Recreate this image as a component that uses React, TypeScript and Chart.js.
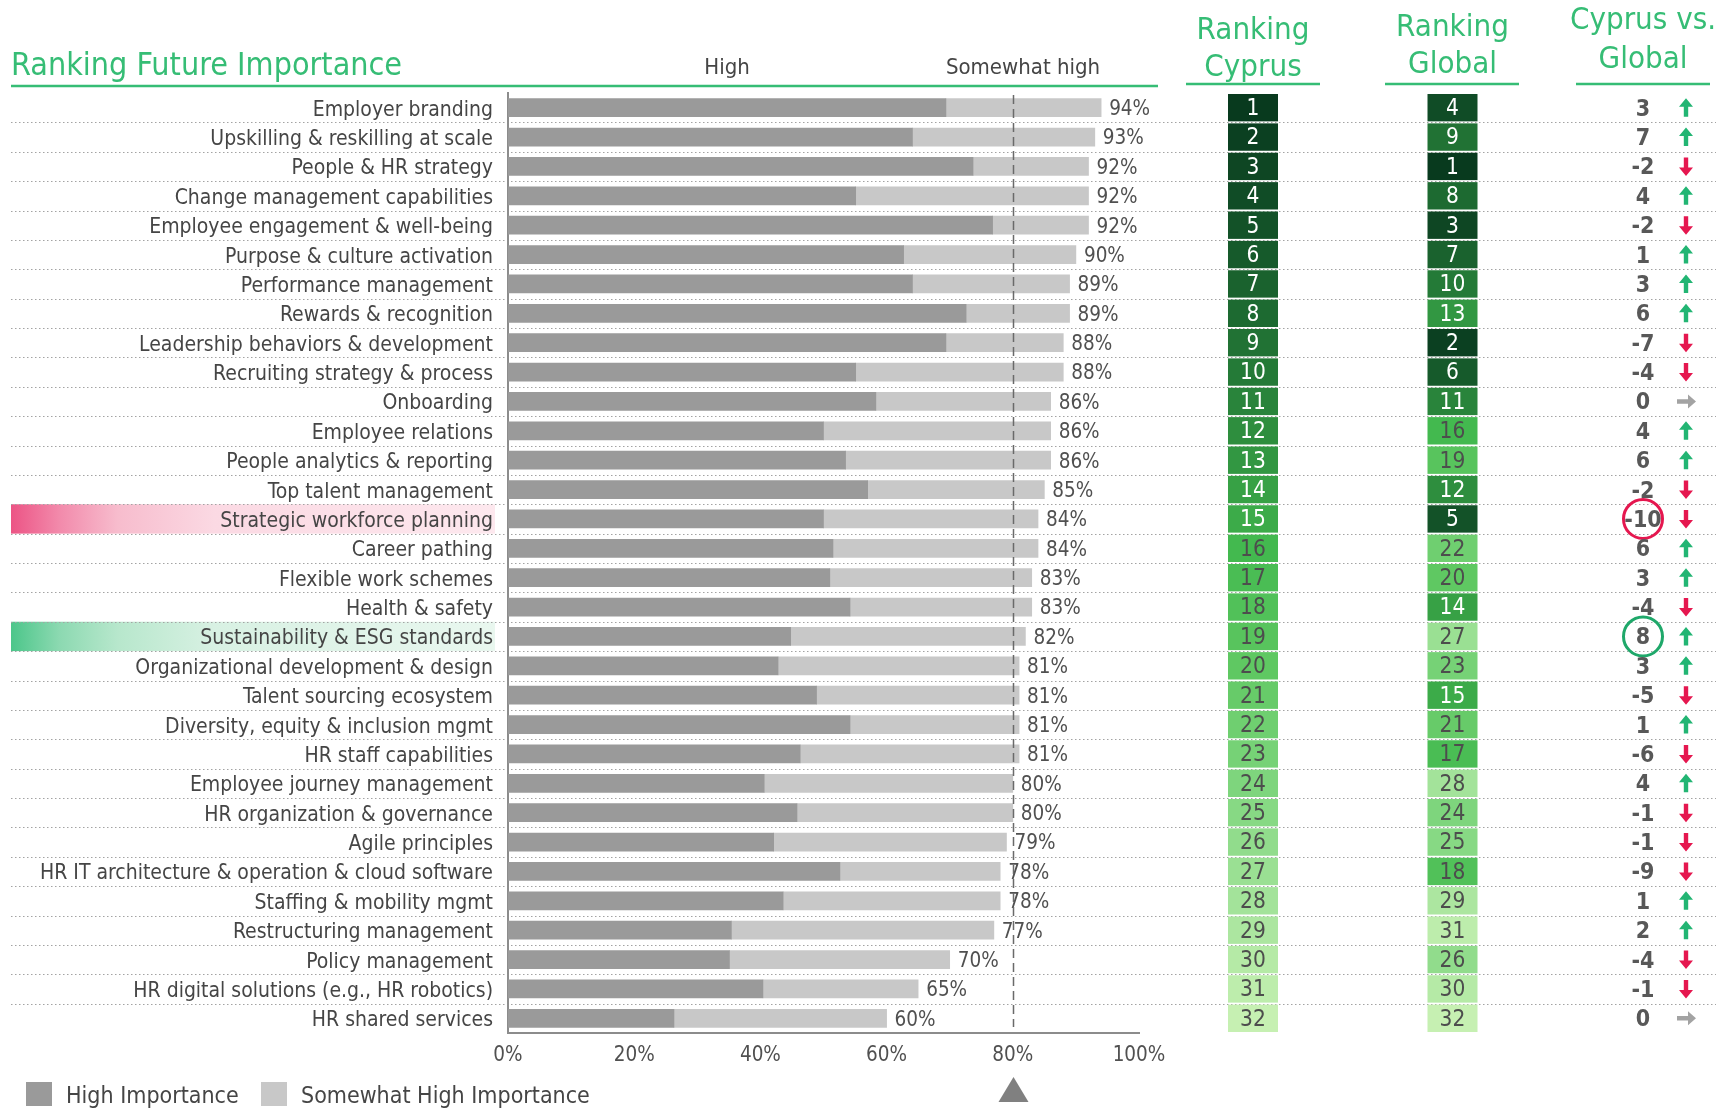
import React, { useEffect, useRef } from 'react';
import { Chart, registerables } from 'chart.js';

Chart.register(...registerables);

// ---- data -----------------------------------------------------------------
const categories = [
  'Employer branding',
  'Upskilling & reskilling at scale',
  'People & HR strategy',
  'Change management capabilities',
  'Employee engagement & well-being',
  'Purpose & culture activation',
  'Performance management',
  'Rewards & recognition',
  'Leadership behaviors & development',
  'Recruiting strategy & process',
  'Onboarding',
  'Employee relations',
  'People analytics & reporting',
  'Top talent management',
  'Strategic workforce planning',
  'Career pathing',
  'Flexible work schemes',
  'Health & safety',
  'Sustainability & ESG standards',
  'Organizational development & design',
  'Talent sourcing ecosystem',
  'Diversity, equity & inclusion mgmt',
  'HR staff capabilities',
  'Employee journey management',
  'HR organization & governance',
  'Agile principles',
  'HR IT architecture & operation & cloud software',
  'Staffing & mobility mgmt',
  'Restructuring management',
  'Policy management',
  'HR digital solutions (e.g., HR robotics)',
  'HR shared services',
];

// Share answering "high importance" (%)
const highImportance = [
  69.4, 64.1, 73.7, 55.1, 76.8, 62.7, 64.1, 72.6, 69.4, 55.1, 58.3, 50.0, 53.5, 57.0, 50.0, 51.5,
  51.0, 54.2, 44.8, 42.8, 48.9, 54.2, 46.3, 40.6, 45.8, 42.1, 52.6, 43.6, 35.4, 35.1, 40.4, 26.3,
];

// High + somewhat high importance (%)
const totalImportance = [
  94, 93, 92, 92, 92, 90, 89, 89, 88, 88, 86, 86, 86, 85, 84, 84,
  83, 83, 82, 81, 81, 81, 81, 80, 80, 79, 78, 78, 77, 70, 65, 60,
];

const somewhatHighImportance = totalImportance.map((t, i) => Math.round((t - highImportance[i]) * 10) / 10);

const rankCyprus = [
  1, 2, 3, 4, 5, 6, 7, 8, 9, 10, 11, 12, 13, 14, 15, 16,
  17, 18, 19, 20, 21, 22, 23, 24, 25, 26, 27, 28, 29, 30, 31, 32,
];

const rankGlobal = [
  4, 9, 1, 8, 3, 7, 10, 13, 2, 6, 11, 16, 19, 12, 5, 22,
  20, 14, 27, 23, 15, 21, 17, 28, 24, 25, 18, 29, 31, 26, 30, 32,
];

const cyprusVsGlobal = [
  3, 7, -2, 4, -2, 1, 3, 6, -7, -4, 0, 4, 6, -2, -10, 6,
  3, -4, 8, 3, -5, 1, -6, 4, -1, -1, -9, 1, 2, -4, -1, 0,
];

const xTicks = [0, 20, 40, 60, 80, 100];
const benchmark = 80;

// rows called out on the left and in the difference column
const highlightNegative = 'Strategic workforce planning';
const highlightPositive = 'Sustainability & ESG standards';

const seriesLabels = ['High Importance', 'Somewhat High Importance'];

// ---- style ----------------------------------------------------------------
const FONT = '"DejaVu Sans Condensed", "DejaVu Sans", sans-serif';
const W = 1716;
const H = 1108;

const C = {
  green: '#36bd75',
  text: '#454545',
  value: '#505050',
  high: '#9a9a9a',
  somewhat: '#c8c8c8',
  axis: '#8c8c8c',
  dots: '#a3a3a3',
  up: '#22b573',
  down: '#e5174f',
  flat: '#a3a3a3',
  ringNeg: '#e5174f',
  ringPos: '#1fa86a',
};

const COL_CYPRUS = 1253;
const COL_GLOBAL = 1452.5;
const COL_DIFF = 1643;
const COL_ARROW = 1686;
const CELL_W = 50;

const rampStops: [number, [number, number, number]][] = [
  [1, [8, 58, 30]],
  [5, [19, 82, 40]],
  [10, [36, 122, 55]],
  [15, [60, 171, 73]],
  [16, [67, 185, 79]],
  [20, [95, 200, 98]],
  [24, [126, 213, 125]],
  [28, [163, 227, 154]],
  [32, [198, 240, 178]],
];

function rankColor(r: number): string {
  for (let k = 0; k < rampStops.length - 1; k++) {
    const [r0, c0] = rampStops[k];
    const [r1, c1] = rampStops[k + 1];
    if (r >= r0 && r <= r1) {
      const t = (r - r0) / (r1 - r0);
      const c = c0.map((v, j) => Math.round(v + (c1[j] - v) * t));
      return `rgb(${c[0]},${c[1]},${c[2]})`;
    }
  }
  return 'rgb(198,240,178)';
}

function font(size: number, weight = 'normal') {
  return `${weight} ${size}px ${FONT}`;
}

function drawArrow(ctx: CanvasRenderingContext2D, x: number, y: number, d: number) {
  ctx.save();
  ctx.beginPath();
  if (d > 0) {
    ctx.fillStyle = C.up;
    ctx.moveTo(x, y - 9.5);
    ctx.lineTo(x + 7, y - 1);
    ctx.lineTo(x + 2.2, y - 1);
    ctx.lineTo(x + 2.2, y + 9);
    ctx.lineTo(x - 2.2, y + 9);
    ctx.lineTo(x - 2.2, y - 1);
    ctx.lineTo(x - 7, y - 1);
  } else if (d < 0) {
    ctx.fillStyle = C.down;
    ctx.moveTo(x, y + 9.5);
    ctx.lineTo(x + 7, y + 1);
    ctx.lineTo(x + 2.2, y + 1);
    ctx.lineTo(x + 2.2, y - 9);
    ctx.lineTo(x - 2.2, y - 9);
    ctx.lineTo(x - 2.2, y + 1);
    ctx.lineTo(x - 7, y + 1);
  } else {
    ctx.fillStyle = C.flat;
    ctx.moveTo(x + 10, y);
    ctx.lineTo(x + 2, y - 7);
    ctx.lineTo(x + 2, y - 2.2);
    ctx.lineTo(x - 9, y - 2.2);
    ctx.lineTo(x - 9, y + 2.2);
    ctx.lineTo(x + 2, y + 2.2);
    ctx.lineTo(x + 2, y + 7);
  }
  ctx.closePath();
  ctx.fill();
  ctx.restore();
}

const decorations = {
  id: 'decorations',
  beforeDraw(chart: any) {
    const { ctx } = chart;
    const y = chart.scales.y;
    const band = y.getPixelForValue(1) - y.getPixelForValue(0);

    // highlighted row labels
    const fills: [string, string[]][] = [
      [highlightNegative, ['#ec5485', '#f28aab', '#f7bccd', '#fbd9e3', '#fde8ee']],
      [highlightPositive, ['#4cc68a', '#8cd9b1', '#b7e7cc', '#d8f1e3', '#e9f7ef']],
    ];
    fills.forEach(([name, stops]) => {
      const i = categories.indexOf(name);
      if (i < 0) return;
      const yc = y.getPixelForValue(i);
      const g = ctx.createLinearGradient(11, 0, 495, 0);
      g.addColorStop(0, stops[0]);
      g.addColorStop(0.1, stops[1]);
      g.addColorStop(0.22, stops[2]);
      g.addColorStop(0.42, stops[3]);
      g.addColorStop(1, stops[4]);
      ctx.fillStyle = g;
      ctx.fillRect(11, yc - band / 2, 484, band);
    });

    // dotted row separators
    ctx.save();
    ctx.strokeStyle = C.dots;
    ctx.lineWidth = 1.2;
    ctx.setLineDash([1.5, 2.5]);
    for (let i = 0; i < categories.length - 1; i++) {
      const ys = Math.round(y.getPixelForValue(i) + band / 2) + 0.5;
      ctx.beginPath();
      ctx.moveTo(11, ys);
      ctx.lineTo(W, ys);
      ctx.stroke();
    }
    ctx.restore();
  },
  afterDatasetsDraw(chart: any) {
    const { ctx, chartArea } = chart;
    const x = chart.scales.x;
    const y = chart.scales.y;

    // totals at the bar ends
    ctx.save();
    ctx.font = font(20.5);
    ctx.fillStyle = C.value;
    ctx.textAlign = 'left';
    ctx.textBaseline = 'middle';
    totalImportance.forEach((t, i) => {
      ctx.fillText(`${t}%`, x.getPixelForValue(t) + 8, y.getPixelForValue(i) + 2);
    });
    ctx.restore();

    // benchmark line and marker
    const xb = Math.round(x.getPixelForValue(benchmark)) + 0.5;
    ctx.save();
    ctx.strokeStyle = '#6a6a6a';
    ctx.lineWidth = 1.5;
    ctx.setLineDash([9, 5]);
    ctx.beginPath();
    ctx.moveTo(xb, chartArea.top + 2);
    ctx.lineTo(xb, chartArea.bottom - 6);
    ctx.stroke();
    ctx.restore();

    ctx.save();
    ctx.fillStyle = '#808080';
    ctx.beginPath();
    ctx.moveTo(xb, 1077);
    ctx.lineTo(xb + 15, 1102);
    ctx.lineTo(xb - 15, 1102);
    ctx.closePath();
    ctx.fill();
    ctx.restore();
  },
  afterDraw(chart: any) {
    const { ctx } = chart;
    const y = chart.scales.y;
    const band = y.getPixelForValue(1) - y.getPixelForValue(0);

    ctx.save();
    // headings
    ctx.fillStyle = C.green;
    ctx.font = font(32);
    ctx.textAlign = 'left';
    ctx.textBaseline = 'alphabetic';
    ctx.fillText('Ranking Future Importance', 11, 75);

    ctx.font = font(31);
    ctx.textAlign = 'center';
    ctx.fillText('Ranking', COL_CYPRUS, 39);
    ctx.fillText('Cyprus', COL_CYPRUS, 76);
    ctx.fillText('Ranking', COL_GLOBAL, 36);
    ctx.fillText('Global', COL_GLOBAL, 73);
    ctx.fillText('Cyprus vs.', COL_DIFF, 29);
    ctx.fillText('Global', COL_DIFF, 68);

    ctx.fillStyle = C.text;
    ctx.font = font(22);
    ctx.fillText('High', 727, 74);
    ctx.fillText('Somewhat high', 1023, 74);

    ctx.strokeStyle = C.green;
    ctx.lineWidth = 2.5;
    const rules: [number, number, number][] = [
      [11, 1158, 86],
      [1186, 1320, 84],
      [1385, 1519, 84],
      [1576, 1710, 84],
    ];
    rules.forEach(([a, b, yy]) => {
      ctx.beginPath();
      ctx.moveTo(a, yy);
      ctx.lineTo(b, yy);
      ctx.stroke();
    });

    // ranking cells
    ctx.font = font(22.5);
    ctx.textAlign = 'center';
    ctx.textBaseline = 'middle';
    const cellH = band - 2;
    const cell = (cx: number, yc: number, r: number) => {
      ctx.fillStyle = rankColor(r);
      ctx.fillRect(cx - CELL_W / 2, yc - cellH / 2, CELL_W, cellH);
      ctx.fillStyle = r <= 15 ? '#ffffff' : '#4d4d4d';
      ctx.fillText(String(r), cx, yc + 1.5);
    };
    categories.forEach((_, i) => {
      const yc = y.getPixelForValue(i);
      cell(COL_CYPRUS, yc, rankCyprus[i]);
      cell(COL_GLOBAL, yc, rankGlobal[i]);
    });

    // difference column
    ctx.font = font(23, 'bold');
    categories.forEach((name, i) => {
      const yc = y.getPixelForValue(i);
      const d = cyprusVsGlobal[i];
      ctx.fillStyle = '#585858';
      ctx.fillText(String(d), COL_DIFF, yc + 2);
      drawArrow(ctx, COL_ARROW, yc, d);
      if (name === highlightNegative || name === highlightPositive) {
        ctx.save();
        ctx.strokeStyle = name === highlightNegative ? C.ringNeg : C.ringPos;
        ctx.lineWidth = 3;
        ctx.beginPath();
        ctx.arc(COL_DIFF, yc, 19.5, 0, Math.PI * 2);
        ctx.stroke();
        ctx.restore();
      }
    });

    // legend
    const legendColors = [C.high, C.somewhat];
    const legendX = [26, 261];
    ctx.font = font(23);
    ctx.textAlign = 'left';
    ctx.textBaseline = 'middle';
    seriesLabels.forEach((lbl, k) => {
      ctx.fillStyle = legendColors[k];
      ctx.fillRect(legendX[k], 1082, 26, 24);
      ctx.fillStyle = C.text;
      ctx.fillText(lbl, legendX[k] + 40, 1097);
    });
    ctx.restore();
  },
};

export default function App() {
  const canvasRef = useRef<HTMLCanvasElement | null>(null);

  useEffect(() => {
    document.documentElement.style.overflow = 'hidden';
    const canvas = canvasRef.current;
    if (!canvas) return;
    const chart = new Chart(canvas, {
      type: 'bar',
      data: {
        labels: categories,
        datasets: [
          {
            label: seriesLabels[0],
            data: highImportance,
            backgroundColor: C.high,
            barThickness: 18,
          },
          {
            label: seriesLabels[1],
            data: somewhatHighImportance,
            backgroundColor: C.somewhat,
            barThickness: 18,
          },
        ],
      },
      options: {
        indexAxis: 'y',
        animation: false,
        responsive: false,
        maintainAspectRatio: false,
        devicePixelRatio: 1,
        layout: { padding: { top: 93, right: W - 1139, bottom: 0, left: 0 } },
        plugins: {
          legend: { display: false },
          tooltip: { enabled: false },
        },
        scales: {
          x: {
            stacked: true,
            min: 0,
            max: 100,
            afterFit: (s: any) => {
              s.height = 75;
            },
            afterBuildTicks: (s: any) => {
              s.ticks = xTicks.map((v) => ({ value: v }));
            },
            grid: { display: false },
            border: { display: true, color: C.axis, width: 2 },
            ticks: {
              padding: 2,
              color: C.value,
              font: { family: FONT, size: 20.5 },
              callback: (v: any) => `${v}%`,
            },
          },
          y: {
            stacked: true,
            afterFit: (s: any) => {
              s.width = 508;
            },
            grid: { display: false },
            border: { display: true, color: C.axis, width: 2 },
            ticks: {
              padding: 7,
              labelOffset: 2.5,
              color: C.text,
              autoSkip: false,
              font: { family: FONT, size: 21 },
            },
          },
        },
      },
      plugins: [decorations],
    } as any);
    return () => chart.destroy();
  }, []);

  return (
    <div style={{ position: 'absolute', left: 0, top: 0, width: W, height: H, background: '#ffffff' }}>
      <canvas ref={canvasRef} width={W} height={H} style={{ display: 'block' }} />
    </div>
  );
}
